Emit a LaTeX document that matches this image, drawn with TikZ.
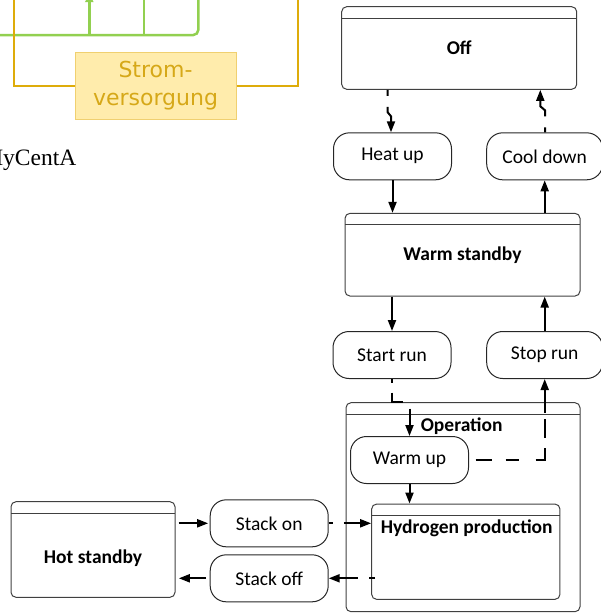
\documentclass[tikz,border=0pt]{standalone}
\usepackage{fontspec}
\setmainfont{Carlito}
\newfontfamily\verdfont{DejaVu Sans}
\newfontfamily\timesfont{Liberation Serif}
\usepackage{tikz}
\usetikzlibrary{arrows.meta}
\definecolor{linegreen}{RGB}{146,208,80}
\definecolor{linegold}{RGB}{222,172,10}
\definecolor{supplyfill}{RGB}{255,236,172}
\definecolor{supplyedge}{RGB}{240,208,112}
\definecolor{supplytext}{RGB}{214,168,24}
\tikzstyle{statebox} = [rectangle, rounded corners=5pt, draw=black!75, line width=1pt, inner sep=0pt, font=\bfseries\fontsize{19.5}{23}\selectfont, path picture={\draw[black!75, line width=1pt] ([yshift=-11.5pt]path picture bounding box.north west) -- ([yshift=-11.5pt]path picture bounding box.north east);}]
\tikzstyle{actionbox} = [rectangle, rounded corners=16pt, draw=black!85, line width=1pt, minimum width=118pt, minimum height=47pt, inner sep=0pt, font=\fontsize{19.5}{23}\selectfont]
\tikzstyle{statelabel} = [inner sep=0pt, font=\bfseries\fontsize{19.5}{23}\selectfont]
\tikzstyle{arrow} = [line width=2pt, -{Triangle[length=11pt,width=8pt]}]
\tikzstyle{greenline} = [linegreen, line width=2.5pt]
\tikzstyle{goldline} = [linegold, line width=2.5pt]

\begin{document}
\begin{tikzpicture}[x=1pt, y=-1pt]
\useasboundingbox (0,0) rectangle (601,613);
\clip (0,0) rectangle (601,613);

% piece of the neighbouring figure
\node[rectangle, draw=supplyedge, fill=supplyfill, line width=1pt, minimum width=161pt, minimum height=66.6pt, align=center, text=supplytext, font=\verdfont\fontsize{22}{28}\selectfont] (supply) at (155.5,86) {Strom-\\versorgung};
\draw[greenline, rounded corners=5pt] (-5,35) -- (198.3,35) -- (198.3,-5);
\draw[greenline] (144,35) -- (144,-5);
\draw[greenline, -{Triangle[length=8pt,width=8pt]}] (89.3,35) -- (89.3,-6);
\draw[goldline] (14,-5) |- (supply);
\draw[goldline] (supply) -| (298,-5);
\node[anchor=base west, inner sep=0pt, font=\timesfont\fontsize{23.5}{28}\selectfont] (caption) at (-17.9,165.5) {MyCentA};

% states
\node[statebox, minimum width=235pt, minimum height=82.6pt] (off) at (459.2,48) {Off};
\node[statebox, minimum width=235pt, minimum height=82.7pt] (warm) at (462.5,254.7) {Warm standby};
\node[statebox, minimum width=234pt, minimum height=209pt] (oper) at (463,507.2) {};
\node[statelabel] (operlabel) at (461.7,426) {Operation};
\node[statebox, minimum width=188.3pt, minimum height=95.3pt] (hydro) at (465.8,551.7) {};
\node[statelabel] (hydrolabel) at (466.7,528) {Hydrogen production};
\node[statebox, minimum width=164pt, minimum height=95.6pt] (hot) at (93,549.5) {};
\node[statelabel] (hotlabel) at (93,558.5) {Hot standby};

% transitions
\node[actionbox] (heat) at (392.5,156.3) {Heat up};
\node[actionbox, minimum width=116pt] (cool) at (544.7,156.3) {Cool down};
\node[actionbox] (start) at (392,355) {Start run};
\node[actionbox, minimum width=116pt] (stop) at (544.7,355) {Stop run};
\node[actionbox] (warmup) at (409.5,460) {Warm up};
\node[actionbox] (stackon) at (269.2,523.3) {Stack on};
\node[actionbox] (stackoff) at (269.2,578.3) {Stack off};

\draw[arrow, dash pattern=on 6pt off 11pt on 200pt off 1pt] ([xshift=-4.8pt]heat.north |- off.south) -- ++(0,22.5) -- ++(3.3,4) -- ([xshift=-1.5pt]heat.north);
\draw[arrow, dash pattern=on 5pt off 11pt on 200pt off 1pt] ([xshift=0.3pt]cool.north) -- ++(0,-22) -- ++(-4.7,-4) -- ([xshift=-4.4pt]cool.north |- off.south);
\draw[arrow] (heat) -- (heat |- warm.north);
\draw[arrow] (warm.north -| cool) -- (cool);
\draw[arrow] (warm.south -| start) -- (start);
\draw[arrow] (stop) -- (stop |- warm.south);
\draw[arrow, dash pattern=on 4pt off 9.7pt on 20.7pt off 12.7pt on 200pt off 1pt] (start) -- (start |- oper.north) -- (warmup |- oper.north) -- (warmup);
\draw[arrow, dash pattern=on 16.7pt off 13.3pt on 13.3pt off 16.7pt on 21.4pt off 10pt on 18.3pt off 6.7pt on 200pt off 1pt] ([xshift=6.7pt]warmup.east) -- (warmup -| stop) -- (stop);
\draw[arrow] (warmup) -- (warmup |- hydro.north);
\draw[arrow, shorten <=3pt, shorten >=1.5pt] (hot.east |- stackon) -- (stackon);
\draw[arrow, shorten <=3.5pt, shorten >=3.3pt] (stackoff) -- (hot.east |- stackoff);
\draw[arrow, dash pattern=on 4.5pt off 10.7pt on 200pt off 1pt] (stackon) -- (stackon -| hydro.west);
\draw[arrow, dash pattern=on 6.5pt off 11pt on 200pt off 1pt] ([xshift=4pt]hydro.west |- stackoff) -- (stackoff);
\end{tikzpicture}
\end{document}
